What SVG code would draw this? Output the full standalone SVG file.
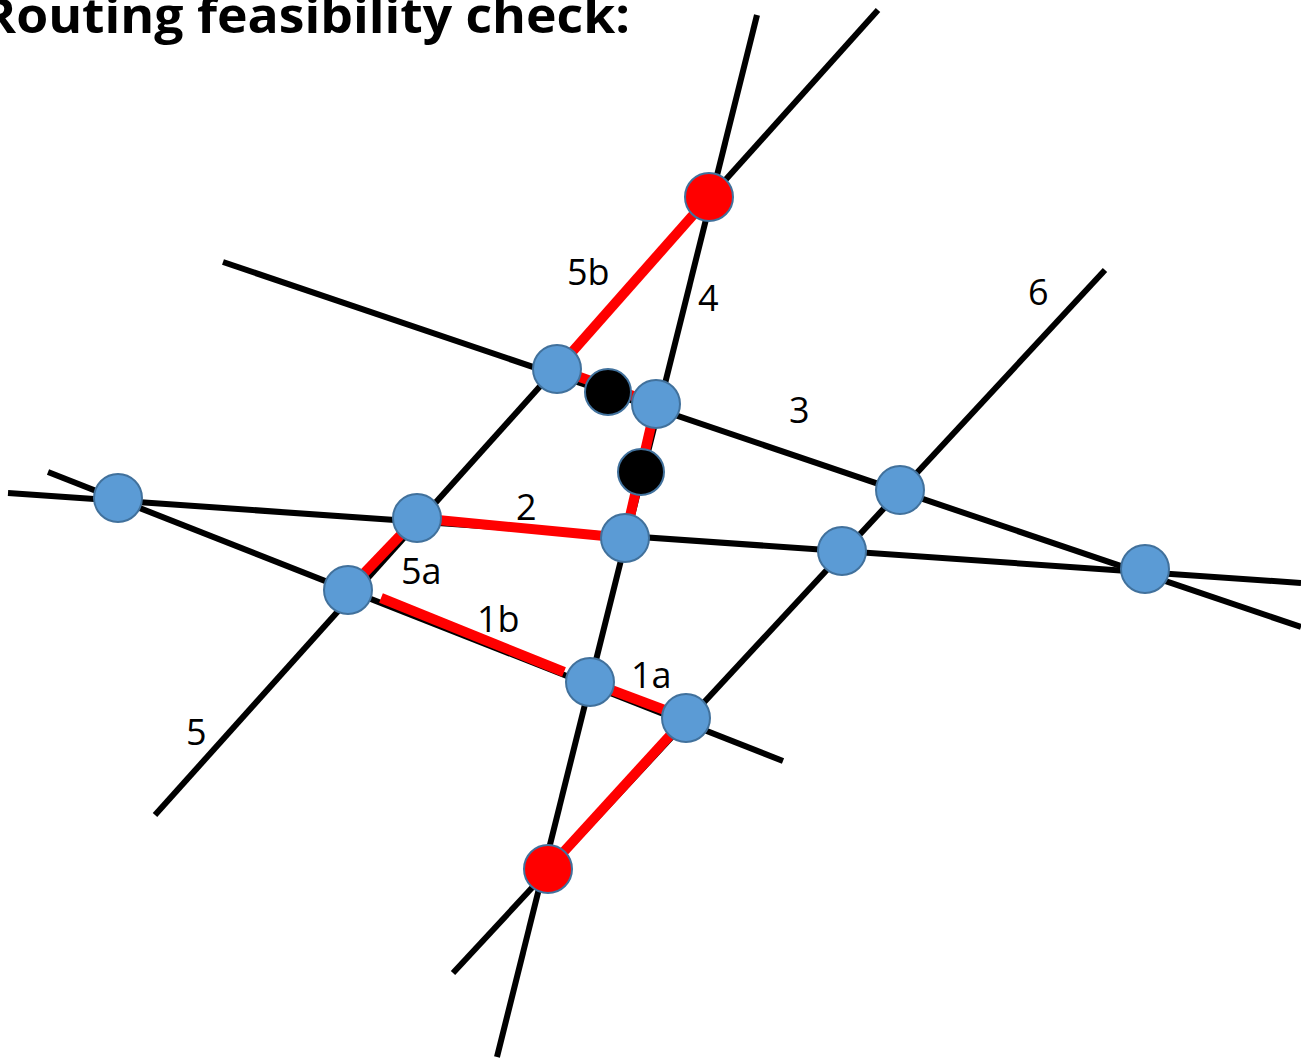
<svg xmlns="http://www.w3.org/2000/svg" width="1301" height="1061" viewBox="0 0 1301 1061">
<style>
.ln{stroke:#000;stroke-width:6;fill:none}
.rd{stroke:#FF0000;stroke-width:10;fill:none}
.bn{fill:#5B9BD5;stroke:#41719C;stroke-width:2}
.rn{fill:#FF0000;stroke:#41719C;stroke-width:2}
.kn{fill:#000;stroke:#41719C;stroke-width:2}
.lb{font-family:"Open Sans","Liberation Sans",sans-serif;font-size:36px;fill:#000}
.tt{font-family:"Open Sans","Liberation Sans",sans-serif;font-size:48px;font-weight:bold;fill:#000}
</style>
<rect width="1301" height="1061" fill="#fff"/>
<text class="tt" x="-18" y="33" textLength="648" lengthAdjust="spacingAndGlyphs">Routing feasibility check:</text>
<g id="connectors">
<line class="ln" x1="757" y1="15" x2="497" y2="1057"/>
<line class="ln" x1="878" y1="10" x2="155" y2="815"/>
<line class="ln" x1="1105" y1="270" x2="453" y2="973"/>
<line class="ln" x1="223" y1="262" x2="1301" y2="627"/>
<line class="ln" x1="8" y1="493" x2="1301" y2="583"/>
<line class="ln" x1="48" y1="472" x2="783" y2="761"/>
<line class="rd" x1="709" y1="197" x2="557" y2="369"/>
<line class="rd" x1="557" y1="369" x2="656" y2="404"/>
<line class="rd" x1="656" y1="404" x2="625" y2="538"/>
<line class="rd" x1="417" y1="518" x2="625" y2="538"/>
<line class="rd" x1="417" y1="518" x2="348" y2="590"/>
<line class="rd" x1="381" y1="598" x2="564" y2="672"/>
<line class="rd" x1="590" y1="682" x2="686" y2="718"/>
<line class="rd" x1="686" y1="718" x2="548" y2="869"/>
</g>
<g id="labels">
<text class="lb" x="567" y="285">5b</text>
<text class="lb" x="698" y="311">4</text>
<text class="lb" x="1028" y="305">6</text>
<text class="lb" x="789" y="423">3</text>
<text class="lb" x="516" y="520">2</text>
<text class="lb" x="401" y="584">5a</text>
<text class="lb" x="477" y="632">1b</text>
<text class="lb" x="631" y="688">1a</text>
<text class="lb" x="186" y="745">5</text>
</g>
<g id="n1"><circle class="bn" cx="118" cy="498" r="24"/></g>
<g id="n2"><circle class="bn" cx="557" cy="369" r="24"/></g>
<g id="n3"><circle class="bn" cx="656" cy="404" r="24"/></g>
<g id="n4"><circle class="bn" cx="417" cy="518" r="24"/></g>
<g id="n5"><circle class="bn" cx="625" cy="538" r="24"/></g>
<g id="n6"><circle class="bn" cx="900" cy="490" r="24"/></g>
<g id="n7"><circle class="bn" cx="842" cy="551" r="24"/></g>
<g id="n8"><circle class="bn" cx="1145" cy="569" r="24"/></g>
<g id="n9"><circle class="bn" cx="348" cy="590" r="24"/></g>
<g id="n10"><circle class="bn" cx="590" cy="682" r="24"/></g>
<g id="n11"><circle class="bn" cx="686" cy="718" r="24"/></g>
<g id="r1"><circle class="rn" cx="709" cy="197" r="24"/></g>
<g id="r2"><circle class="rn" cx="548" cy="869" r="24"/></g>
<g id="k1"><circle class="kn" cx="608" cy="392" r="23"/></g>
<g id="k2"><circle class="kn" cx="641" cy="472" r="23"/></g>
</svg>
